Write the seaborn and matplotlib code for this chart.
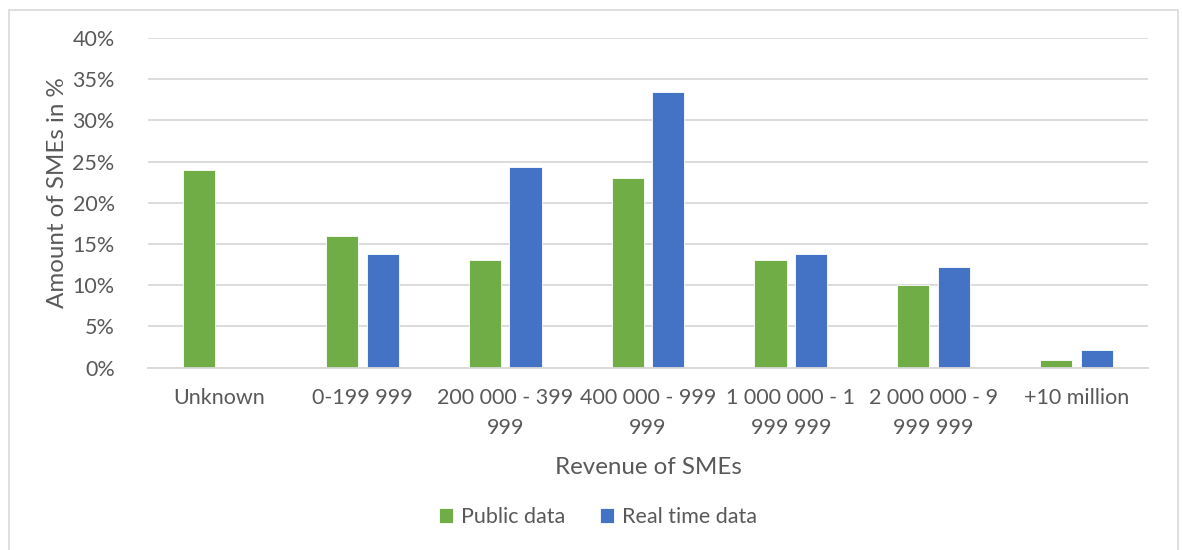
import matplotlib
matplotlib.use("Agg")
import matplotlib.pyplot as plt
from matplotlib.patches import Rectangle
import seaborn as sns
import pandas as pd

categories = ["Unknown", "0-199 999", "200 000 - 399\n999", "400 000 - 999\n999",
              "1 000 000 - 1\n999 999", "2 000 000 - 9\n999 999", "+10 million"]
public_data = [24.0, 16.0, 13.0, 23.0, 13.0, 10.0, 0.9]
real_time_data = [0.0, 13.75, 24.4, 33.45, 13.75, 12.2, 2.1]
series_names = ["Public data", "Real time data"]
y_ticks = [0, 5, 10, 15, 20, 25, 30, 35, 40]

df = pd.DataFrame({
    "category": categories * 2,
    "value": public_data + real_time_data,
    "series": [series_names[0]] * len(categories) + [series_names[1]] * len(categories),
})

sns.set_theme(style="white")
plt.rcParams["font.family"] = ["Lato", "DejaVu Sans"]
text_color = "#595959"
grid_color = "#d9d9d9"
tick_size = 15.5

fig = plt.figure(figsize=(11.82, 5.5), dpi=100)
ax = fig.add_axes([148 / 1182, 1 - 367.5 / 550, 1000 / 1182, (367.5 - 38) / 550])

# outer chart frame
fig.patches.append(Rectangle((9.5 / 1182, -0.05), (1177.5 - 9.5) / 1182, 1.05 - 9.5 / 550,
                             transform=fig.transFigure, fill=False,
                             edgecolor=grid_color, linewidth=1.2))

sns.barplot(data=df, x="category", y="value", hue="series", order=categories,
            hue_order=series_names, palette=["#70AD47", "#4472C4"],
            width=0.57, gap=0.21, ax=ax, saturation=1, edgecolor="white",
            linewidth=0.6, legend=True)

ax.set_ylim(0, 40)
ax.set_xlim(-0.5, len(categories) - 0.5)
ax.set_yticks(y_ticks)
ax.set_yticklabels([f"{t}%" for t in y_ticks])
ax.yaxis.grid(True, color=grid_color, linewidth=1.3)
ax.set_axisbelow(True)
for side in ["top", "right", "left"]:
    ax.spines[side].set_visible(False)
ax.spines["bottom"].set_color(grid_color)
ax.spines["bottom"].set_linewidth(1.3)
ax.tick_params(axis="both", length=0, labelsize=tick_size, labelcolor=text_color)
ax.tick_params(axis="y", pad=24)
ax.tick_params(axis="x", pad=15)
for lbl in ax.get_xticklabels():
    lbl.set_linespacing(1.6)

ax.set_xlabel("Revenue of SMEs", fontsize=17.4, color=text_color, va="center")
ax.xaxis.set_label_coords(0.5, (367.5 - 467) / 329.5)
ax.set_ylabel("Amount of SMEs in %", fontsize=17.4, color=text_color, va="center")
ax.yaxis.set_label_coords((58 - 148) / 1000, (367.5 - 193) / 329.5)

handles, labels = ax.get_legend_handles_labels()
ax.legend(handles, labels, loc="center", bbox_to_anchor=(598 / 1182, 1 - 517 / 550),
          bbox_transform=fig.transFigure, ncol=2, frameon=False, fontsize=tick_size,
          labelcolor=text_color, handlelength=0.65, handleheight=0.65,
          handletextpad=0.4, columnspacing=1.6)

fig.savefig("out.png", dpi=100, facecolor="white")
